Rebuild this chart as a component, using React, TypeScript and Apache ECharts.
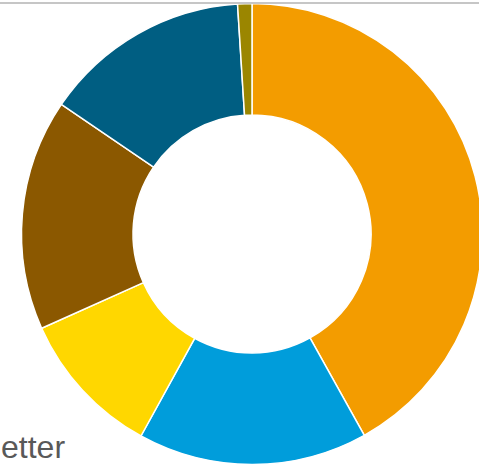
import React, { useEffect, useRef } from "react";
import * as echarts from "echarts";

const categories = ["Segment 1", "Segment 2", "Segment 3", "Segment 4", "Segment 5", "Segment 6"];
const values = [41.9, 16.1, 10.3, 16.2, 14.5, 1.0];
const colors = ["#F39C00", "#009DDB", "#FFD700", "#8B5800", "#005E82", "#9B8600"];

export default function App() {
  const ref = useRef<HTMLDivElement>(null);
  useEffect(() => {
    if (!ref.current) return;
    const chart = echarts.init(ref.current, null, { renderer: "svg" });
    chart.setOption({
      animation: false,
      backgroundColor: "#ffffff",
      graphic: [
        {
          type: "rect",
          shape: { x: 0, y: 2, width: 479, height: 2 },
          style: { fill: "#c6c6c6" },
          z: 10,
        },
        {
          type: "text",
          x: 1,
          y: 463,
          style: {
            text: "etter",
            fill: "#595959",
            font: "32px 'Liberation Sans', Arial, sans-serif",
            textVerticalAlign: "bottom",
          },
          z: 10,
        },
      ],
      series: [
        {
          type: "pie",
          center: [252, 234],
          radius: [119, 230.5],
          startAngle: 90,
          clockwise: true,
          avoidLabelOverlap: false,
          label: { show: false },
          labelLine: { show: false },
          emphasis: { disabled: true },
          itemStyle: { borderColor: "#ffffff", borderWidth: 1.5 },
          data: categories.map((name, i) => ({
            name,
            value: values[i],
            itemStyle: { color: colors[i] },
          })),
        },
      ],
    });
    return () => chart.dispose();
  }, []);
  return (
    <div
      ref={ref}
      style={{ position: "fixed", left: 0, top: 0, width: 479, height: 468 }}
    />
  );
}
